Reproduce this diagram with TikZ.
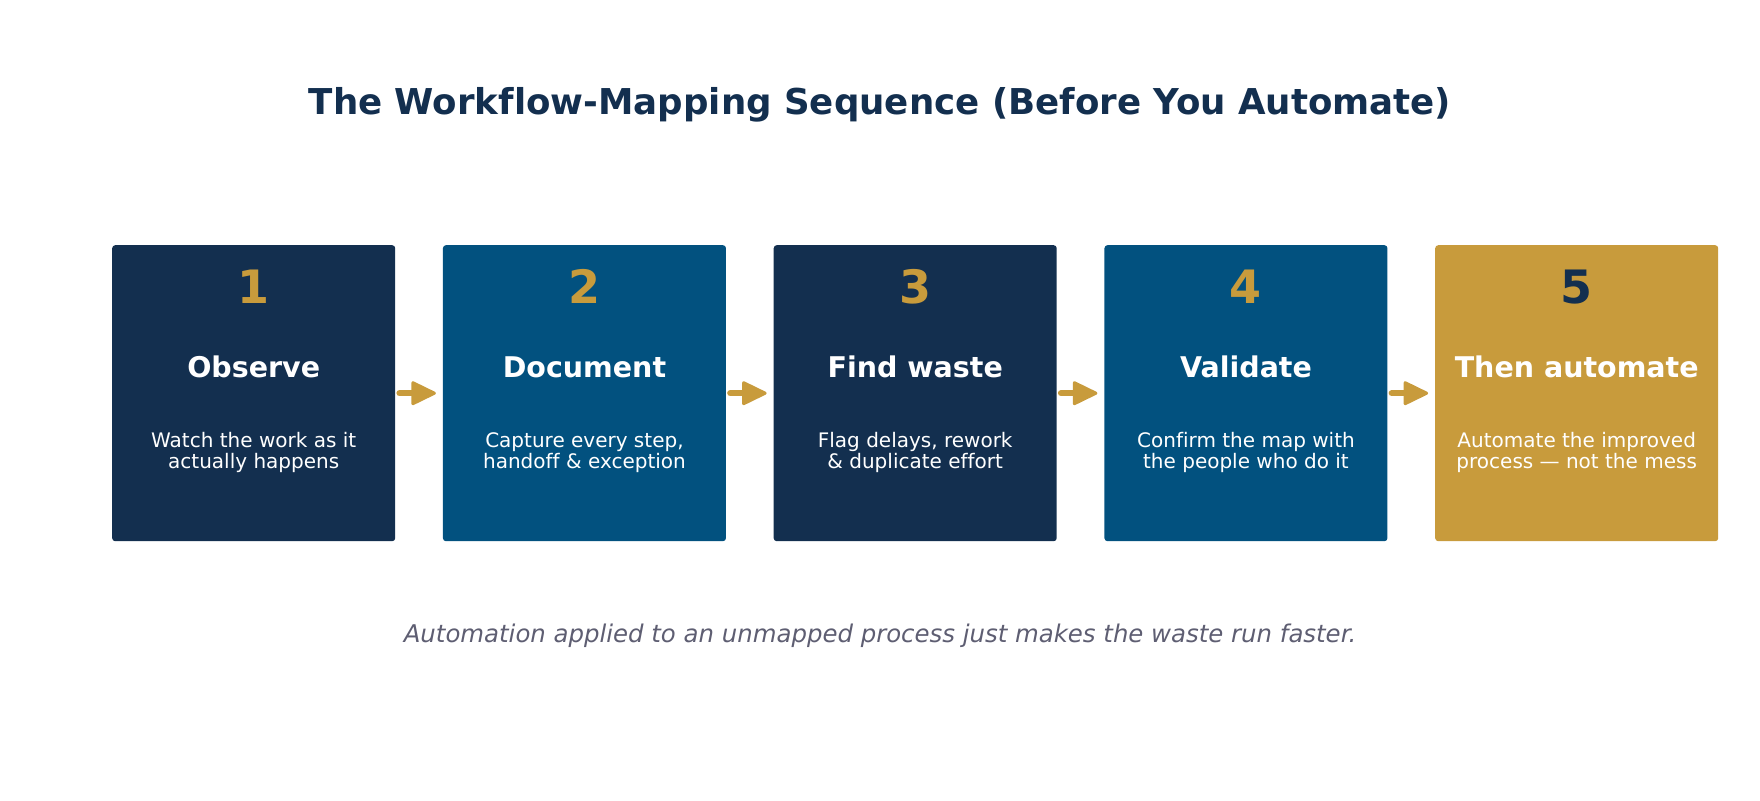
\documentclass[tikz,border=0pt]{standalone}
\usepackage{fontspec}
\setmainfont{DejaVu Sans}[Ligatures=NoCommon]
\usetikzlibrary{calc}
\definecolor{navy}{HTML}{132F4F}
\definecolor{steel}{HTML}{02517F}
\definecolor{gold}{HTML}{C89B3C}
\definecolor{subgray}{HTML}{5E5E72}
\begin{document}
\begin{tikzpicture}[x=1pt,y=-1pt,
  stepbox/.style={rounded corners=3pt, minimum width=283pt, minimum height=296pt, inner sep=0pt, anchor=north west, draw=none},
  numtxt/.style={font=\bfseries\fontsize{46}{50}\selectfont, anchor=base, inner sep=0pt},
  headtxt/.style={font=\bfseries\fontsize{28.5}{32}\selectfont, text=white, anchor=base, inner sep=0pt},
  desctxt/.style={font=\fontsize{20}{22}\selectfont, text=white, anchor=base, inner sep=0pt},
  shaft/.style={draw=gold, line width=6pt, line cap=round},
  tiphead/.style={fill=gold, draw=gold, line width=3pt, line join=round}
]
\useasboundingbox (0,0) rectangle (1760,800);
\node[font=\bfseries\fontsize{35.6}{42}\selectfont, text=navy, anchor=base, inner sep=0pt] (title) at (880,114) {The Workflow-Mapping Sequence (Before You Automate)};

\foreach \i/\fc/\nc/\hd/\la/\lb in {
  1/navy/gold/Observe/Watch the work as it/actually happens,
  2/steel/gold/Document/{Capture every step,}/handoff \& exception,
  3/navy/gold/Find waste/{Flag delays, rework}/\& duplicate effort,
  4/steel/gold/Validate/Confirm the map with/the people who do it,
  5/gold/navy/Then automate/Automate the improved/process — not the mess}{
  \pgfmathsetmacro{\bx}{112+(\i-1)*330.75}
  \node[stepbox, fill=\fc] (b\i) at (\bx,245) {};
  \node[numtxt, text=\nc] (n\i) at ($(b\i.north)+(0,58.5)$) {\i};
  \node[headtxt] (h\i) at ($(b\i.north)+(0,132.5)$) {\hd};
  \node[desctxt] (da\i) at ($(b\i.north)+(0,202)$) {\la};
  \node[desctxt] (db\i) at ($(b\i.north)+(0,223.5)$) {\lb};
}

\foreach \i in {1,2,3,4}{
  \draw[shaft] ($(b\i.east)+(4,0)$) -- ($(b\i.east)+(17,0)$);
  \filldraw[tiphead] ($(b\i.east)+(17.5,-10.5)$) -- ($(b\i.east)+(39,0)$) -- ($(b\i.east)+(17.5,10.5)$) -- cycle;
}

\node[font=\itshape\fontsize{24.4}{28}\selectfont, text=subgray, anchor=base, inner sep=0pt] (sub) at (880,642) {Automation applied to an unmapped process just makes the waste run faster.};
\end{tikzpicture}
\end{document}
